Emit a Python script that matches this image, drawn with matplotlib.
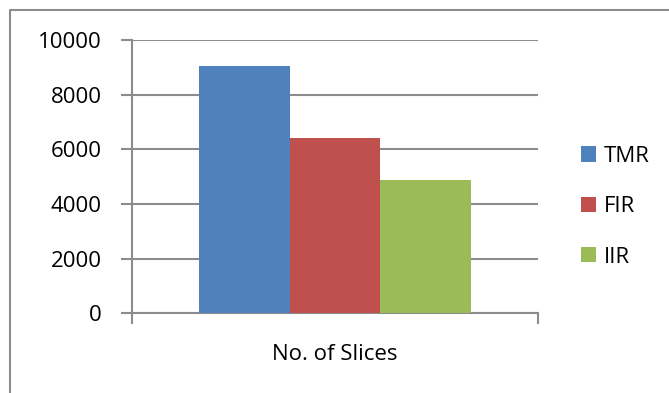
import matplotlib.pyplot as plt
from matplotlib.lines import Line2D

plt.rcParams["font.family"] = ["Open Sans", "DejaVu Sans"]

category = "No. of Slices"
series = ["TMR", "FIR", "IIR"]
values = [9050, 6420, 4880]
colors = ["#4F81BD", "#C0504D", "#9BBB59"]
yticks = [0, 2000, 4000, 6000, 8000, 10000]

grid_col = "#8C8C8C"

fig = plt.figure(figsize=[6.69, 3.93], dpi=100)
ax = fig.add_axes([132 / 669, 1 - 313.3 / 393, 406 / 669, 273.3 / 393])

w = 0.224
for i, (name, v, c) in enumerate(zip(series, values, colors)):
    ax.bar((i - 1) * w, v, width=w, color=c, label=name, zorder=3)

ax.set_xlim(-0.5, 0.5)
ax.set_ylim(0, 10000)
ax.set_yticks(yticks)
ax.set_yticklabels([str(t) for t in yticks], fontsize=16)
ax.set_xticks([-0.5, 0.5])
ax.set_xticklabels(["", ""])
ax.tick_params(axis="both", direction="out", length=8, width=1.5, color=grid_col)
ax.tick_params(axis="y", pad=14)
ax.grid(axis="y", color=grid_col, linewidth=1.5, zorder=0)
ax.set_axisbelow(True)
for s in ["top", "right"]:
    ax.spines[s].set_visible(False)
for s in ["left", "bottom"]:
    ax.spines[s].set_color(grid_col)
    ax.spines[s].set_linewidth(1.5)

ax.text(0.5, -0.15, category, transform=ax.transAxes, fontsize=16,
        ha="center", va="center")

ax.legend(loc="center left", bbox_to_anchor=(1.106, 0.39), frameon=False,
          fontsize=16, handlelength=0.68, handleheight=0.68,
          labelspacing=1.32, handletextpad=0.35, borderaxespad=0, borderpad=0)

# outer chart border (partly cropped in the reference)
fig.add_artist(Line2D([10 / 669, 10 / 669, 1.0], [0.0, 1 - 10 / 393, 1 - 10 / 393],
                      transform=fig.transFigure, color="#8C8C8C", linewidth=1.5))

plt.savefig("out.png", dpi=100)
